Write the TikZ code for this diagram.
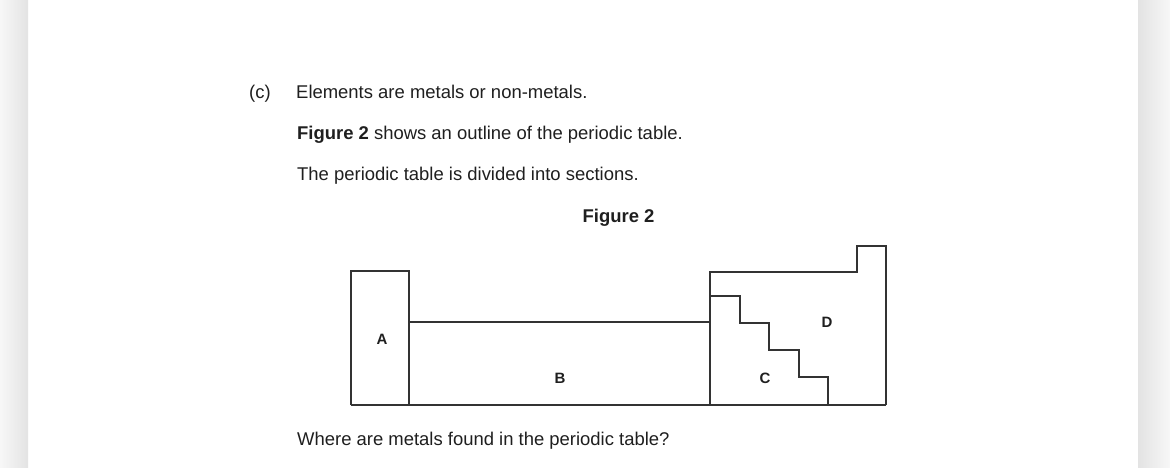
\documentclass[tikz,border=0pt]{standalone}
\usepackage{fontspec}
\setmainfont{Liberation Sans}
\tikzset{
  body/.style={anchor=base west, inner sep=0pt, text=black!88, font=\fontsize{18.45}{22}\selectfont},
  lbl/.style={inner sep=0pt, text=black!88, font=\fontsize{15}{17}\selectfont\bfseries},
  outline/.style={draw=black!80, line width=1.8pt, line join=miter},
}
\begin{document}
\begin{tikzpicture}[x=1pt,y=-1pt]
\useasboundingbox (0,0) rectangle (1170,468);
\fill[white] (0,0) rectangle (1170,468);
% page shadows
\shade[left color=black!3, right color=black!11] (0,0) rectangle (28,468);
\shade[left color=black!11, right color=black!3] (1138,0) rectangle (1170,468);
% texts
\node[body] (c) at (249,98.3) {(c)};
\node[body] (l1) at (296,98.3) {Elements are metals or non-metals.};
\node[body] (l2) at (297,139.5) {\textbf{Figure 2} shows an outline of the periodic table.};
\node[body] (l3) at (297,180) {The periodic table is divided into sections.};
\node[anchor=base, inner sep=0pt, text=black!88, font=\fontsize{18.45}{22}\selectfont\bfseries] (fig) at (618.5,222.5) {Figure 2};
\node[body] (q) at (297,445) {Where are metals found in the periodic table?};
% outline of periodic table
\draw[outline] (351,405) -- (351,271) -- (409,271) -- (409,405);
\draw[outline] (409,322) -- (710,322);
\draw[outline] (351,405) -- (886,405);
\draw[outline] (710,405) -- (710,272) -- (857,272) -- (857,246) -- (886,246) -- (886,405);
\draw[outline] (710,296) -- (740,296) -- (740,323) -- (769,323) -- (769,350) -- (799,350) -- (799,377) -- (828,377) -- (828,405);
% labels
\node[lbl] (A) at (382,339) {A};
\node[lbl] (B) at (560,378) {B};
\node[lbl] (C) at (765,378) {C};
\node[lbl] (D) at (827,322) {D};
\end{tikzpicture}
\end{document}
